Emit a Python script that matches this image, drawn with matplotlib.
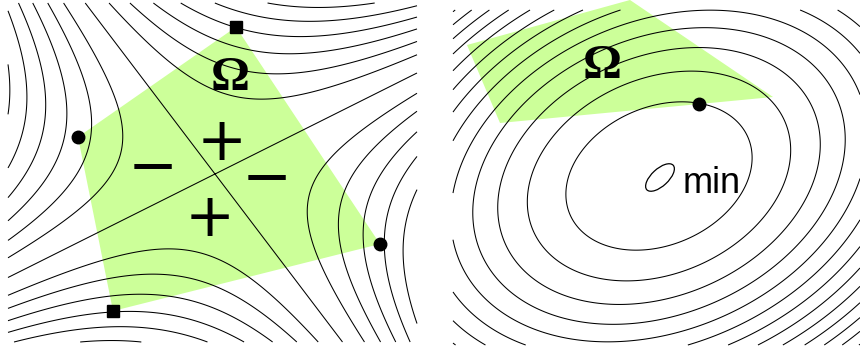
import numpy as np
import matplotlib.pyplot as plt
from matplotlib.patches import Polygon, Ellipse

# Tamaño en pixeles de la imagen de referencia (se usa como sistema de coordenadas)
W, H = 860, 352

# --- Panel izquierdo: punto de silla ---
saddle_center = (215, 174)
saddle_dir1 = (255, 336)   # recta de nivel cero que baja hacia la derecha
saddle_dir2 = (2, -1)      # recta de nivel cero que sube hacia la derecha
saddle_levels = [-18800, -15800, -12800, -9800, -6800, -3800, 0,
                 3800, 6800, 9800, 12800, 15800, 18800]
left_box = (8, 417, 3, 342)   # x0, x1, y0, y1

left_poly_x = [78, 236, 380, 113]
left_poly_y = [137, 27, 244, 311]
left_dots_x = [78, 380]
left_dots_y = [137, 244]
left_squares_x = [236, 113]
left_squares_y = [27, 311]
signs = ["+", "+", "\u2212", "\u2212"]
signs_x = [222, 210, 153, 267]
signs_y = [144, 219, 168, 179]
left_omega = (230, 90)

# --- Panel derecho: minimo ---
min_center = (659, 176)
min_axes = (97, 69)       # semiejes del contorno de nivel 1
min_angle = 23.5          # grados
min_levels = [1, 2, 3, 4, 5, 6, 7, 8, 9, 10, 11, 12, 13, 14, 15]
right_box = (453, 860, 10, 345)

right_poly_x = [467, 630, 773, 500]
right_poly_y = [45, 0, 97, 123]
right_dot = (699, 104)
right_omega = (602, 78)
min_marker = (660, 177.5)
min_label = (683, 193)

green = "#ccff99"

fig = plt.figure(figsize=(W / 100, H / 100), dpi=100)
ax = fig.add_axes([0, 0, 1, 1])
ax.set_xlim(0, W)
ax.set_ylim(H, 0)
ax.axis("off")

# Campo de silla: producto de las dos rectas de nivel cero
x0, x1, y0, y1 = left_box
X, Y = np.meshgrid(np.linspace(x0, x1, 500), np.linspace(y0, y1, 420))
rx, ry = X - saddle_center[0], Y - saddle_center[1]
n1 = np.array([-saddle_dir1[1], saddle_dir1[0]]) / np.hypot(*saddle_dir1)
n2 = np.array([-saddle_dir2[1], saddle_dir2[0]]) / np.hypot(*saddle_dir2)
F = (n1[0] * rx + n1[1] * ry) * (n2[0] * rx + n2[1] * ry)

ax.add_patch(Polygon(np.column_stack([left_poly_x, left_poly_y]), closed=True,
                     facecolor=green, edgecolor="none", zorder=1))
ax.contour(X, Y, F, levels=saddle_levels, colors="black", linewidths=0.75,
           linestyles="solid", zorder=2)
ax.plot(left_dots_x, left_dots_y, "o", color="black", ms=9, zorder=3)
ax.plot(left_squares_x, left_squares_y, "s", color="black", ms=9, zorder=3)
for s, sx, sy in zip(signs, signs_x, signs_y):
    ax.text(sx, sy, s, fontsize=43, family="DejaVu Sans", ha="center", va="center", zorder=4)
ax.text(*left_omega, "\u03a9", fontsize=35, family="Liberation Serif", weight="bold",
        ha="center", va="baseline", zorder=4)

# Campo del minimo: elipses rotadas
x0, x1, y0, y1 = right_box
X, Y = np.meshgrid(np.linspace(x0, x1, 500), np.linspace(y0, y1, 420))
rx, ry = X - min_center[0], Y - min_center[1]
t = np.radians(min_angle)
u = rx * np.cos(t) - ry * np.sin(t)
v = rx * np.sin(t) + ry * np.cos(t)
G = (u / min_axes[0]) ** 2 + (v / min_axes[1]) ** 2

ax.add_patch(Polygon(np.column_stack([right_poly_x, right_poly_y]), closed=True,
                     facecolor=green, edgecolor="none", zorder=1))
ax.contour(X, Y, G, levels=min_levels, colors="black", linewidths=0.75,
           linestyles="solid", zorder=2)
ax.plot(*right_dot, "o", color="black", ms=9, zorder=3)
ax.add_patch(Ellipse(min_marker, width=36, height=17, angle=-43, fill=False,
                     edgecolor="black", lw=0.9, zorder=3))
ax.text(*min_label, "min", fontsize=26, family="Liberation Sans", ha="left",
        va="baseline", zorder=4)
ax.text(*right_omega, "\u03a9", fontsize=35, family="Liberation Serif", weight="bold",
        ha="center", va="baseline", zorder=4)

fig.savefig("out.png", dpi=100)
